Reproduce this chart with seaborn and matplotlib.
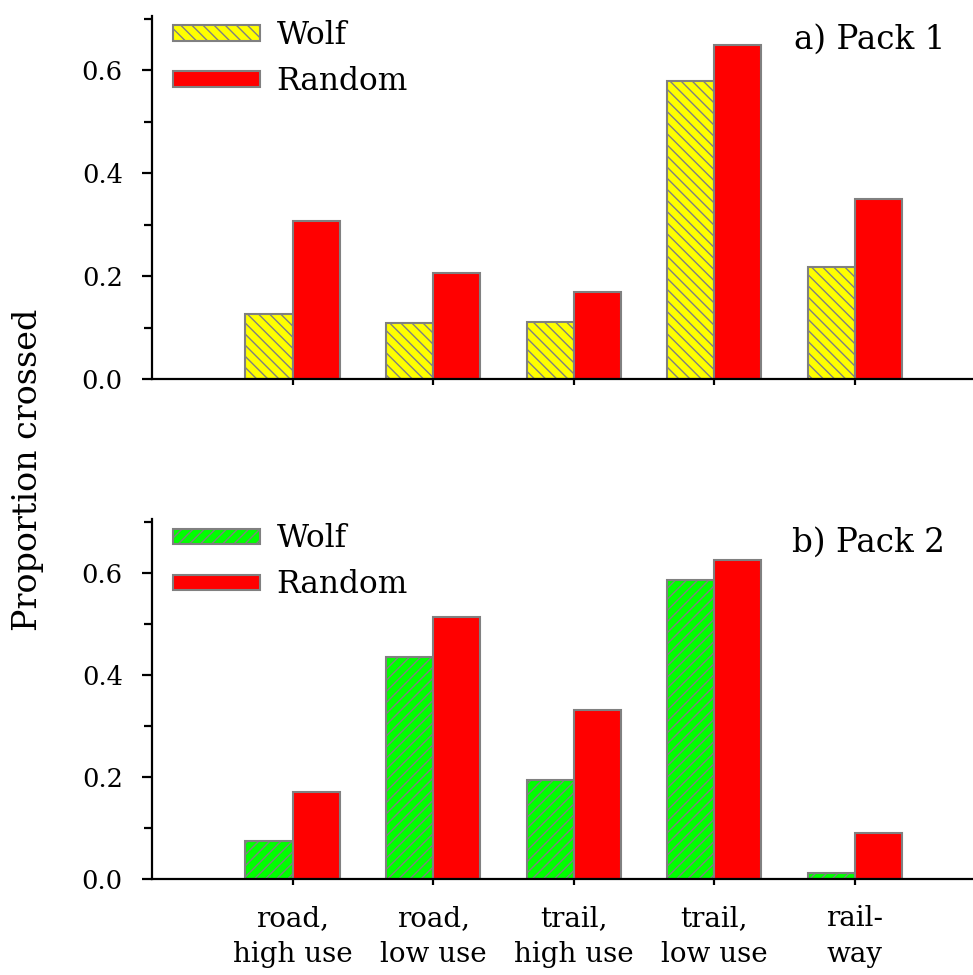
import matplotlib
matplotlib.use("Agg")
import matplotlib.pyplot as plt
from matplotlib.ticker import MultipleLocator
import seaborn as sns
import pandas as pd

# categories along x
categories = ["road,\nhigh use", "road,\nlow use", "trail,\nhigh use", "trail,\nlow use", "rail-\nway"]
series = ["Wolf", "Random"]

# proportion crossed
pack1_wolf = [0.126, 0.109, 0.110, 0.579, 0.217]
pack1_random = [0.307, 0.206, 0.169, 0.649, 0.350]
pack2_wolf = [0.074, 0.435, 0.194, 0.586, 0.012]
pack2_random = [0.171, 0.514, 0.331, 0.624, 0.090]

panel_titles = ["a) Pack 1", "b) Pack 2"]
wolf_colors = ["#ffff00", "#00ff00"]
wolf_hatches = ["\\\\\\", "///"]

sns.set_style("ticks")
plt.rcParams["font.family"] = ["DejaVu Serif"]
plt.rcParams["hatch.linewidth"] = 1.0
plt.rcParams["text.color"] = "black"
plt.rcParams["xtick.color"] = "black"
plt.rcParams["ytick.color"] = "black"
plt.rcParams["xtick.labelcolor"] = "black"
plt.rcParams["ytick.labelcolor"] = "black"

fig = plt.figure(figsize=(9.73, 9.75), dpi=100)
ax1 = fig.add_axes([152 / 973, 1 - 379 / 975, 1 - 152 / 973, (379 - 16) / 975])
ax2 = fig.add_axes([152 / 973, 1 - 879 / 975, 1 - 152 / 973, (879 - 519) / 975])

panels = [(ax1, pack1_wolf, pack1_random), (ax2, pack2_wolf, pack2_random)]

for i, (ax, wolf, rand) in enumerate(panels):
    df = pd.DataFrame({
        "category": categories * 2,
        "series": ["Wolf"] * 5 + ["Random"] * 5,
        "value": wolf + rand,
    })
    sns.barplot(data=df, x="category", y="value", hue="series",
                order=categories, hue_order=series,
                palette={"Wolf": wolf_colors[i], "Random": "#ff0000"},
                width=0.67, edgecolor="#808080", linewidth=1.5,
                errorbar=None, ax=ax, saturation=1)
    # hatch the wolf bars
    for p in ax.patches[:5]:
        p.set_hatch(wolf_hatches[i])
        p.set_edgecolor("#808080")

    ax.set_xlim(-1, 4.84)
    ax.set_ylim(0, 0.705)
    ax.yaxis.set_minor_locator(MultipleLocator(0.1))
    ax.set_yticks([0.0, 0.2, 0.4, 0.6])
    ax.set_yticklabels(["0.0", "0.2", "0.4", "0.6"])
    ax.tick_params(axis="y", which="major", length=7, width=1.6, labelsize=18.5, pad=14)
    ax.tick_params(axis="y", which="minor", length=6, width=1.6)
    ax.tick_params(axis="x", length=4, width=1.6, labelsize=20, pad=15)
    for s in ["top", "right"]:
        ax.spines[s].set_visible(False)
    for s in ["left", "bottom"]:
        ax.spines[s].set_linewidth(1.6)
        ax.spines[s].set_color("black")
    ax.set_xlabel("")
    ax.set_ylabel("")

    ax.text(0.966, 0.935, panel_titles[i], transform=ax.transAxes,
            ha="right", va="center", fontsize=23.5)

    handles, labels = ax.get_legend_handles_labels()
    for h in handles:
        h.set_edgecolor("#808080")
    handles[0].set_hatch(wolf_hatches[i])
    ax.legend(handles, labels, loc="upper left", bbox_to_anchor=(-0.009, 1.066),
              frameon=False, fontsize=22.5, handlelength=2.8, handleheight=0.37,
              handletextpad=0.52, labelspacing=0.48)

ax1.set_xticklabels([])
for lab in ax2.get_xticklabels():
    lab.set_linespacing(1.4)

fig.text(28 / 973, 1 - 470 / 975, "Proportion crossed", rotation=90,
         ha="center", va="center", fontsize=24)

fig.savefig("out.png", dpi=100)
